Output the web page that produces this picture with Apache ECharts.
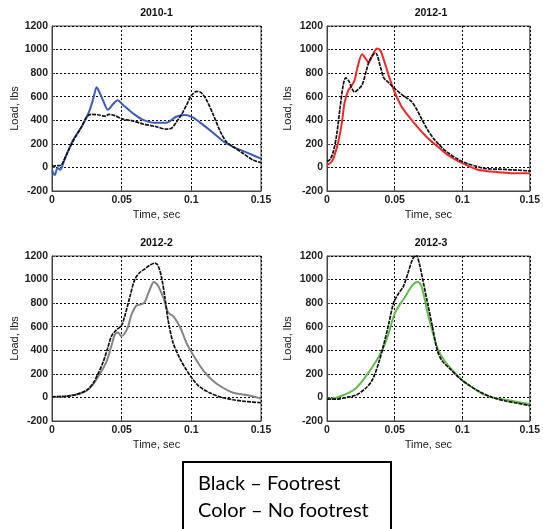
<!DOCTYPE html>
<html>
<head>
<meta charset="utf-8">
<script src="https://cdn.jsdelivr.net/npm/echarts@6/dist/echarts.min.js"></script>
<style>html,body{margin:0;padding:0;background:#fff;}#c{width:543px;height:529px;}</style>
</head>
<body>
<div id="c"></div>
<script>
// ---- Data ----
const panelTitles = ['2010-1', '2012-1', '2012-2', '2012-3'];
const xTicks = [0, 0.05, 0.1, 0.15];
const yTicks = [-200, 0, 200, 400, 600, 800, 1000, 1200];

// 2010-1
const t2010Black = [0,0.004,0.0067,0.010,0.015,0.021,0.025,0.028,0.034,0.038,0.041,0.045,0.051,0.058,0.065,0.075,0.082,0.086,0.089,0.093,0.097,0.100,0.104,0.107,0.111,0.116,0.121,0.125,0.130,0.137,0.144,0.150];
const v2010Black = [10,15,20,100,220,340,430,450,445,435,450,440,410,395,370,345,325,335,380,450,540,610,645,635,570,440,300,220,175,120,65,40];
const t2010Color = [0,0.002,0.004,0.006,0.008,0.015,0.022,0.027,0.030,0.032,0.034,0.038,0.040,0.044,0.047,0.051,0.058,0.065,0.073,0.082,0.089,0.095,0.101,0.108,0.116,0.123,0.130,0.140,0.150];
const v2010Color = [-20,-65,-5,-20,35,230,360,485,600,680,640,530,490,540,570,530,460,405,380,380,430,445,425,365,290,220,175,125,75];

// 2012-1
const t20121Black = [0,0.0024,0.0048,0.0072,0.0096,0.012,0.0139,0.0163,0.018,0.0204,0.0228,0.026,0.0288,0.0312,0.0343,0.036,0.0396,0.042,0.0456,0.050,0.054,0.0576,0.0624,0.066,0.0696,0.0744,0.0792,0.084,0.090,0.096,0.1032,0.1104,0.1176,0.127,0.1368,0.150];
const v20121Black = [50,70,140,280,500,700,760,730,680,640,660,700,810,900,960,970,850,760,720,670,630,600,560,500,420,320,240,180,120,75,35,10,-10,-15,-20,-30];
const t20121Color = [0,0.0036,0.006,0.0084,0.011,0.013,0.0156,0.018,0.0204,0.0228,0.026,0.0288,0.0307,0.0336,0.037,0.0396,0.0432,0.0468,0.050,0.055,0.060,0.0672,0.0744,0.0816,0.0888,0.096,0.1032,0.1104,0.1176,0.127,0.1368,0.150];
const v20121Color = [20,50,120,220,380,550,650,690,740,860,960,920,890,950,1010,990,870,740,640,520,440,340,250,180,110,60,20,-15,-30,-40,-50,-50];

// 2012-2
const t20122Black = [0,0.0103,0.0175,0.0247,0.0295,0.033,0.0367,0.040,0.0427,0.046,0.0498,0.052,0.0558,0.0594,0.063,0.0666,0.070,0.0738,0.076,0.0786,0.081,0.0834,0.087,0.0918,0.0966,0.1013,0.106,0.113,0.1205,0.130,0.1397,0.150];
const v20122Black = [5,10,25,60,120,200,300,420,520,570,610,680,850,1000,1060,1090,1120,1140,1120,1020,850,650,460,330,230,150,90,40,5,-20,-35,-45];
const t20122Color = [0,0.0103,0.0175,0.0247,0.0295,0.0343,0.039,0.0427,0.045,0.0474,0.0498,0.052,0.0546,0.057,0.0606,0.064,0.0666,0.069,0.0714,0.073,0.076,0.0798,0.0834,0.087,0.0918,0.0966,0.1013,0.1085,0.1157,0.123,0.130,0.1397,0.150];
const v20122Color = [5,10,25,55,110,200,300,440,530,550,520,540,600,700,780,790,810,880,950,980,950,850,720,690,600,460,360,230,140,80,40,20,-10];

// 2012-3
const t20123Black = [0,0.0072,0.0144,0.0216,0.0288,0.0336,0.0384,0.042,0.0456,0.0492,0.0528,0.0564,0.060,0.0636,0.066,0.0684,0.0708,0.0744,0.078,0.0816,0.0852,0.0912,0.0984,0.1056,0.1128,0.1224,0.132,0.1416,0.150];
const v20123Black = [-15,-15,0,20,80,150,300,450,620,800,880,940,1060,1180,1210,1130,1000,800,600,400,310,240,160,100,50,0,-30,-50,-70];
const t20123Color = [0,0.0072,0.0144,0.0216,0.0288,0.036,0.0408,0.0444,0.048,0.0504,0.054,0.0576,0.0612,0.0648,0.0672,0.0696,0.072,0.0744,0.078,0.0816,0.0864,0.0936,0.1008,0.108,0.1152,0.1224,0.132,0.1416,0.150];
const v20123Color = [-15,0,30,80,180,300,400,500,640,720,790,850,920,970,980,950,850,720,560,420,320,220,140,80,30,0,-20,-40,-55];

const legendLines = ['Black \u2013 Footrest', 'Color \u2013 No footrest'];

// ---- Build options ----
function zip(t, v) { return t.map((x, i) => [x, v[i]]); }

const grids = [
  {left: 52, top: 26, width: 209, height: 165},
  {left: 327, top: 26, width: 208, height: 165},
  {left: 52, top: 256, width: 209, height: 165},
  {left: 327, top: 256, width: 208, height: 165}
];
const colorSeries = [
  {t: t2010Color, v: v2010Color, c: '#3d5cba'},
  {t: t20121Color, v: v20121Color, c: '#f02828'},
  {t: t20122Color, v: v20122Color, c: '#858585'},
  {t: t20123Color, v: v20123Color, c: '#62bb4c'}
];
const blackSeries = [
  {t: t2010Black, v: v2010Black},
  {t: t20121Black, v: v20121Black},
  {t: t20122Black, v: v20122Black},
  {t: t20123Black, v: v20123Black}
];

const FONT = 'Liberation Sans, Arial, sans-serif';
const tickFont = {fontFamily: FONT, fontSize: 10.5, fontWeight: 'bold', color: '#222'};
const gridLine = {show: true, lineStyle: {color: '#000', type: [2, 2], width: 1}};

const option = {
  animation: false,
  backgroundColor: '#fff',
  title: panelTitles.map((txt, i) => ({
    text: txt,
    left: grids[i].left + grids[i].width / 2,
    top: grids[i].top - 18,
    textAlign: 'center',
    padding: 0,
    textStyle: {fontFamily: FONT, fontSize: 10.5, fontWeight: 'bold', color: '#111'}
  })),
  grid: grids.map(g => Object.assign({show: true, borderColor: '#444', borderWidth: 1, backgroundColor: '#fff', containLabel: false}, g)),
  xAxis: grids.map((g, i) => ({
    gridIndex: i, type: 'value', min: xTicks[0], max: xTicks[xTicks.length - 1], interval: 0.05,
    name: 'Time, sec', nameLocation: 'middle', nameGap: 18,
    nameTextStyle: {fontFamily: FONT, fontSize: 11, color: '#222'},
    axisLine: {show: true, onZero: false, lineStyle: {color: '#444'}},
    axisTick: {show: true, inside: true, length: 3, lineStyle: {color: '#444'}},
    axisLabel: Object.assign({margin: 4, formatter: v => String(+v.toFixed(2))}, tickFont),
    splitLine: gridLine
  })),
  yAxis: grids.map((g, i) => ({
    gridIndex: i, type: 'value', min: yTicks[0], max: yTicks[yTicks.length - 1], interval: 200,
    name: 'Load, lbs', nameLocation: 'middle', nameGap: i % 2 === 0 ? 31 : 34, nameRotate: 90,
    nameTextStyle: {fontFamily: FONT, fontSize: 11, color: '#222'},
    axisLine: {show: true, onZero: false, lineStyle: {color: '#444'}},
    axisTick: {show: true, inside: true, length: 3, lineStyle: {color: '#444'}},
    axisLabel: Object.assign({margin: 4, formatter: v => String(v)}, tickFont),
    splitLine: gridLine
  })),
  series: [].concat(
    blackSeries.map((s, i) => ({
      type: 'line', xAxisIndex: i, yAxisIndex: i, data: zip(s.t, s.v),
      smooth: 0.3, showSymbol: false, clip: true, z: 3,
      lineStyle: {color: '#111', width: 1.7, type: [4, 1]}
    })),
    colorSeries.map((s, i) => ({
      type: 'line', xAxisIndex: i, yAxisIndex: i, data: zip(s.t, s.v),
      smooth: 0.3, showSymbol: false, clip: true, z: 2,
      lineStyle: {color: s.c, width: 2}
    }))
  ),
  graphic: [
    {type: 'rect', shape: {x: 183, y: 462, width: 208, height: 90}, style: {fill: '#fff', stroke: '#000', lineWidth: 2}},
    {type: 'text', x: 198, y: 484, style: {text: legendLines[0], font: '20px Lato, "Open Sans", sans-serif', fill: '#000', textVerticalAlign: 'middle'}},
    {type: 'text', x: 198, y: 511, style: {text: legendLines[1], font: '20px Lato, "Open Sans", sans-serif', fill: '#000', textVerticalAlign: 'middle'}}
  ]
};

const chart = echarts.init(document.getElementById('c'), null, {renderer: 'canvas'});
chart.setOption(option);
</script>
</body>
</html>
